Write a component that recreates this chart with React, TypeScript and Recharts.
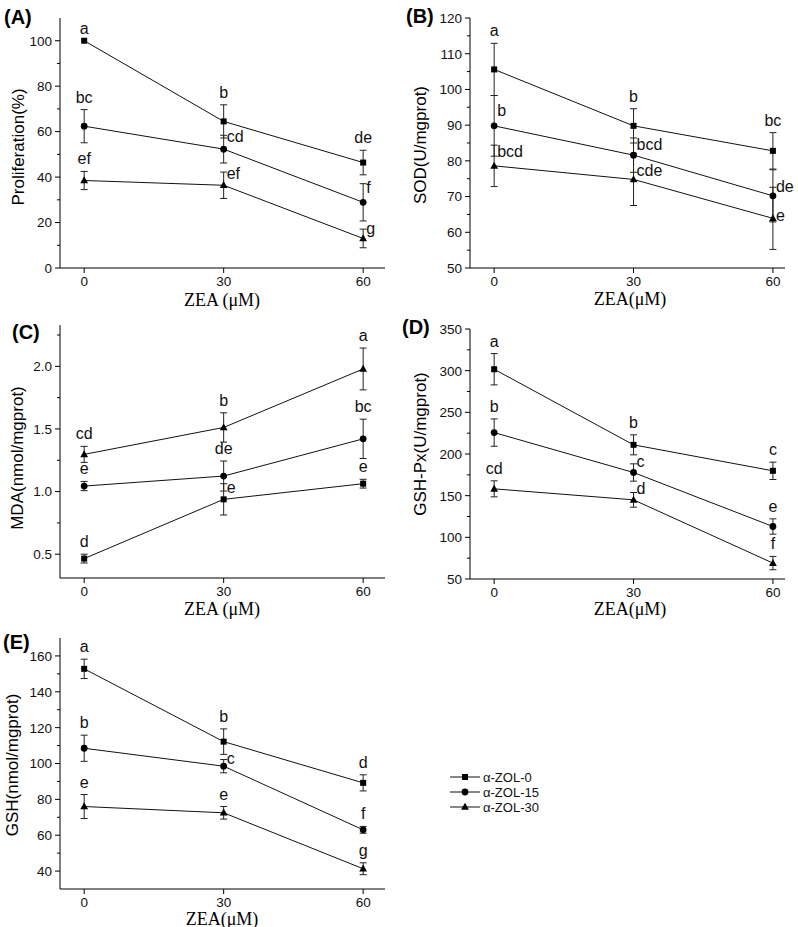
import React from "react";
import { LineChart, Line, XAxis, YAxis, ErrorBar, LabelList } from "recharts";

const SANS = "Arial, 'Liberation Sans', Helvetica, sans-serif";
const SERIF = "'Times New Roman', 'Liberation Serif', serif";

// shared
const doses = [0, 30, 60];
const doseTicks = [0, 30, 60];
const seriesNames = ["α-ZOL-0", "α-ZOL-15", "α-ZOL-30"];

// (A) proliferation %
const prolifMeans = [[100, 64.5, 46.4], [62.4, 52.3, 28.9], [38.5, 36.4, 13.0]];
const prolifErrs = [[0, 7.3, 5.4], [7.3, 6.1, 8.2], [4.0, 5.8, 4.1]];
const prolifLetters = [["a", "b", "de"], ["bc", "cd", "f"], ["ef", "ef", "g"]];
const prolifMajor = [0, 20, 40, 60, 80, 100];
const prolifMinor = [10, 30, 50, 70, 90];

// (B) SOD
const sodMeans = [[105.6, 89.8, 82.8], [89.8, 81.6, 70.2], [78.6, 74.8, 63.9]];
const sodErrs = [[7.3, 4.8, 5.1], [8.5, 4.8, 7.3], [5.8, 7.3, 8.7]];
const sodLetters = [["a", "b", "bc"], ["b", "bcd", "de"], ["bcd", "cde", "e"]];
const sodMajor = [50, 60, 70, 80, 90, 100, 110, 120];
const sodMinor = [55, 65, 75, 85, 95, 105, 115];

// (C) MDA
const mdaMeans = [[0.465, 0.938, 1.063], [1.044, 1.124, 1.421], [1.297, 1.512, 1.979]];
const mdaErrs = [[0.035, 0.125, 0.035], [0.037, 0.12, 0.157], [0.064, 0.117, 0.167]];
const mdaLetters = [["d", "e", "e"], ["e", "de", "bc"], ["cd", "b", "a"]];
const mdaMajor = [0.5, 1.0, 1.5, 2.0];
const mdaMinor = [0.75, 1.25, 1.75, 2.25];

// (D) GSH-Px
const gpxMeans = [[301.7, 211, 179.8], [225.7, 177.8, 113], [158.2, 145, 69.1]];
const gpxErrs = [[18.8, 12, 10.4], [16.4, 10.4, 9.2], [9.6, 8.8, 8]];
const gpxLetters = [["a", "b", "c"], ["b", "c", "e"], ["cd", "d", "f"]];
const gpxMajor = [50, 100, 150, 200, 250, 300, 350];
const gpxMinor = [75, 125, 175, 225, 275, 325];

// (E) GSH
const gshMeans = [[152.8, 112.2, 89.2], [108.5, 98.5, 63], [76, 72.5, 41.3]];
const gshErrs = [[5.4, 7.1, 4.5], [7.3, 3.7, 1.9], [6.7, 3.5, 3.3]];
const gshLetters = [["a", "b", "d"], ["b", "c", "f"], ["e", "e", "g"]];
const gshMajor = [40, 60, 80, 100, 120, 140, 160];
const gshMinor = [50, 70, 90, 110, 130, 150];

// "t" = letter above the error bar, number = to the right, offset from the point
type Place = "t" | number;

function buildRows(means: number[][], errs: number[][], letters: string[][], place: Place[][]) {
  return doses.map((d, i) => {
    const row: any = { x: d };
    means.forEach((s, k) => {
      row[`m${k}`] = s[i];
      row[`e${k}`] = errs[k][i];
      row[`a${k}`] = place[k][i] === "t" ? s[i] + errs[k][i] : s[i];
      row[`l${k}`] = letters[k][i];
    });
    return row;
  });
}

const Marker = ({ cx, cy, shape }: any) => {
  if (cx == null || cy == null) return null;
  if (shape === 0) return <rect x={cx - 3} y={cy - 3} width={6} height={6} fill="#000" />;
  if (shape === 1) return <circle cx={cx} cy={cy} r={3.4} fill="#000" />;
  return <path d={`M${cx},${cy - 4.2}L${cx + 3.9},${cy + 2.8}L${cx - 3.9},${cy + 2.8}Z`} fill="#000" />;
};

const YTick = (props: any) => {
  const { x, y, payload, majors, fmt } = props;
  const v = payload.value;
  const major = majors.some((m: number) => Math.abs(m - v) < 1e-9);
  const ax = Number(x) + 8;
  return (
    <g>
      <line x1={ax - (major ? 5 : 3)} x2={ax} y1={y} y2={y} stroke="#000" strokeWidth={1} />
      {major && (
        <text x={ax - 8} y={y} dy="0.36em" textAnchor="end" fontSize={13.5} fontFamily={SANS} fill="#111">
          {fmt(v)}
        </text>
      )}
    </g>
  );
};

const letterRenderer = (place: Place[]) => (p: any) => {
  const vb = p.viewBox || {};
  const x = Number(p.x ?? vb.x) + (vb.width ? vb.width / 2 : 0);
  const y = Number(p.y ?? vb.y);
  const pl = place[p.index];
  if (pl === "t") {
    return (
      <text key={`lt${p.index}`} x={x} y={y - 7} textAnchor="middle" fontSize={16} fontFamily={SANS} fill="#111">
        {p.value}
      </text>
    );
  }
  return (
    <text key={`lr${p.index}`} x={x + 3} y={y + (pl as number)} dy="0.35em" textAnchor="start" fontSize={16} fontFamily={SANS} fill="#111">
      {p.value}
    </text>
  );
};

const Centered = ({ x, y, rotate, style, children }: any) => (
  <div
    style={{
      position: "absolute",
      left: x,
      top: y,
      transform: `translate(-50%, -50%)${rotate ? " rotate(-90deg)" : ""}`,
      whiteSpace: "nowrap",
      lineHeight: 1,
      ...style,
    }}
  >
    {children}
  </div>
);

const panels = [
  {
    tag: "(A)", left: 0, top: 0, width: 400, height: 310, yW: 60, mTop: 18, mRight: 15, xH: 42,
    xDomain: [-5.2, 64.7], yDomain: [0, 110], major: prolifMajor, minor: prolifMinor, fmt: (v: number) => String(v),
    means: prolifMeans, errs: prolifErrs, letters: prolifLetters,
    place: [["t", "t", "t"], ["t", -13, -15], ["t", -12, -10]] as Place[][],
    yTitle: "Proliferation(%)", yt: [18, 147], xTitle: "ZEA (μM)", xt: [222, 300], tagPos: [4, 17],
  },
  {
    tag: "(B)", left: 400, top: 0, width: 398, height: 310, yW: 70, mTop: 18, mRight: 13, xH: 42,
    xDomain: [-5.2, 62.6], yDomain: [50, 120], major: sodMajor, minor: sodMinor, fmt: (v: number) => String(v),
    means: sodMeans, errs: sodErrs, letters: sodLetters,
    place: [["t", "t", "t"], [-15, -11, -9], [-14, -9, -3]] as Place[][],
    yTitle: "SOD(U/mgprot)", yt: [20, 145], xTitle: "ZEA(μM)", xt: [230, 299], tagPos: [6, 16],
  },
  {
    tag: "(C)", left: 0, top: 310, width: 400, height: 310, yW: 60, mTop: 15, mRight: 15, xH: 42,
    xDomain: [-5.2, 64.7], yDomain: [0.31, 2.33], major: mdaMajor, minor: mdaMinor, fmt: (v: number) => v.toFixed(1),
    means: mdaMeans, errs: mdaErrs, letters: mdaLetters,
    place: [["t", -12, "t"], ["t", "t", "t"], ["t", "t", "t"]] as Place[][],
    yTitle: "MDA(nmol/mgprot)", yt: [17, 148], xTitle: "ZEA (μM)", xt: [222, 299], tagPos: [12, 22],
  },
  {
    tag: "(D)", left: 400, top: 310, width: 398, height: 310, yW: 70, mTop: 19, mRight: 13, xH: 41,
    xDomain: [-5.2, 62.6], yDomain: [50, 350], major: gpxMajor, minor: gpxMinor, fmt: (v: number) => String(v),
    means: gpxMeans, errs: gpxErrs, letters: gpxLetters,
    place: [["t", "t", "t"], ["t", -11, "t"], ["t", -11, "t"]] as Place[][],
    yTitle: "GSH-Px(U/mgprot)", yt: [20, 134], xTitle: "ZEA(μM)", xt: [230, 299], tagPos: [2, 17],
  },
  {
    tag: "(E)", left: 0, top: 620, width: 400, height: 307, yW: 60, mTop: 18, mRight: 15, xH: 38,
    xDomain: [-5.2, 64.7], yDomain: [30, 170], major: gshMajor, minor: gshMinor, fmt: (v: number) => String(v),
    means: gshMeans, errs: gshErrs, letters: gshLetters,
    place: [["t", "t", "t"], ["t", -8, "t"], ["t", "t", "t"]] as Place[][],
    yTitle: "GSH(nmol/mgprot)", yt: [12, 145], xTitle: "ZEA(μM)", xt: [222, 298.5], tagPos: [3, 22],
  },
];

function Panel({ cfg }: { cfg: (typeof panels)[number] }) {
  const rows = buildRows(cfg.means, cfg.errs, cfg.letters, cfg.place);
  const ticks = [...cfg.major, ...cfg.minor].sort((a, b) => a - b);
  return (
    <div style={{ position: "absolute", left: cfg.left, top: cfg.top, width: cfg.width, height: cfg.height }}>
      <LineChart
        width={cfg.width}
        height={cfg.height}
        data={rows}
        margin={{ top: cfg.mTop, right: cfg.mRight, bottom: 0, left: 0 }}
      >
        <XAxis
          type="number"
          dataKey="x"
          domain={cfg.xDomain}
          ticks={doseTicks}
          interval={0}
          allowDataOverflow
          height={cfg.xH}
          tickSize={5}
          tickMargin={3}
          axisLine={{ stroke: "#000" }}
          tickLine={{ stroke: "#000" }}
          tick={{ fill: "#111", fontSize: 13.5, fontFamily: SANS }}
        />
        <YAxis
          type="number"
          domain={cfg.yDomain}
          ticks={ticks}
          interval={0}
          allowDataOverflow
          width={cfg.yW}
          tickSize={5}
          tickMargin={3}
          tickLine={false}
          axisLine={{ stroke: "#000" }}
          tick={(p: any) => <YTick {...p} majors={cfg.major} fmt={cfg.fmt} />}
        />
        {[0, 1, 2].map((k) => (
          <Line
            key={`s${k}`}
            type="linear"
            dataKey={`m${k}`}
            name={seriesNames[k]}
            stroke="#111"
            strokeWidth={1}
            dot={(p: any) => <Marker key={`d${k}-${p.index}`} cx={p.cx} cy={p.cy} shape={k} />}
            activeDot={false}
            isAnimationActive={false}
          >
            <ErrorBar dataKey={`e${k}`} width={3.5} stroke="#222" strokeWidth={1} direction="y" />
          </Line>
        ))}
        {[0, 1, 2].map((k) => (
          <Line
            key={`l${k}`}
            dataKey={`a${k}`}
            stroke="none"
            dot={false}
            activeDot={false}
            legendType="none"
            isAnimationActive={false}
          >
            <LabelList dataKey={`l${k}`} content={letterRenderer(cfg.place[k])} />
          </Line>
        ))}
      </LineChart>
      <div
        style={{
          position: "absolute",
          left: cfg.tagPos[0],
          top: cfg.tagPos[1],
          transform: "translateY(-50%)",
          fontFamily: SANS,
          fontWeight: "bold",
          fontSize: 20,
          lineHeight: 1,
        }}
      >
        {cfg.tag}
      </div>
      <Centered x={cfg.yt[0]} y={cfg.yt[1]} rotate style={{ fontFamily: SANS, fontSize: 17 }}>
        {cfg.yTitle}
      </Centered>
      <Centered x={cfg.xt[0]} y={cfg.xt[1]} style={{ fontFamily: SERIF, fontSize: 18 }}>
        {cfg.xTitle}
      </Centered>
    </div>
  );
}

function LegendBox() {
  return (
    <svg style={{ position: "absolute", left: 440, top: 765 }} width={150} height={55}>
      {seriesNames.map((n, k) => (
        <g key={n}>
          <line x1={10} x2={40} y1={12 + k * 15} y2={12 + k * 15} stroke="#111" strokeWidth={1} />
          <Marker cx={25} cy={12 + k * 15} shape={k} />
          <text x={43} y={12 + k * 15} dy="0.36em" fontSize={13} fontFamily={SANS} fill="#111">
            {n}
          </text>
        </g>
      ))}
    </svg>
  );
}

export default function App() {
  return (
    <div style={{ position: "absolute", left: 0, top: 0, width: 798, height: 927, background: "#fff" }}>
      {panels.map((p) => (
        <Panel key={p.tag} cfg={p} />
      ))}
      <LegendBox />
    </div>
  );
}
